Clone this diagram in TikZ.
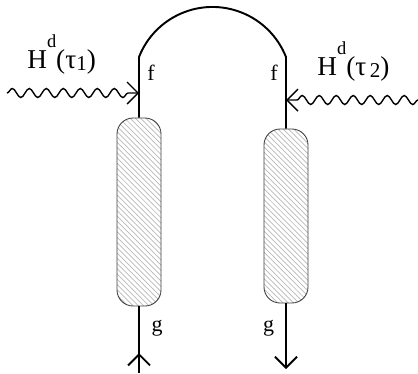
\documentclass[tikz,border=0pt]{standalone}
\usepackage{fontspec}
\setmainfont{Liberation Serif}
\usetikzlibrary{arrows.meta,patterns,decorations.pathmorphing}

\newcommand{\etiq}[1]{H\raisebox{11.5pt}{\fontsize{10.5}{12}\selectfont d}(τ\raisebox{-1.7pt}{\fontsize{12}{13}\selectfont #1})}

\begin{document}
\begin{tikzpicture}[x=0.02cm, y=-0.02cm,
			 bloque/.style={draw=black!75, line width=0.5pt, rounded corners=0.32cm, minimum width=0.88cm, inner sep=0pt, pattern=north west lines, pattern color=gray!55},
			 linea/.style={line width=1.1pt},
			 onda/.style={line width=0.8pt, decorate, decoration={snake, amplitude=0.09cm, segment length=0.34cm, post length=0.1cm}},
			 punta/.style={-{Straight Barb[length=0.22cm, width=0.44cm]}},
			 letra/.style={anchor=base, inner sep=0pt, font=\fontsize{12.5}{14}\selectfont},
			 titulo/.style={anchor=base west, inner sep=0pt, font=\fontsize{15.5}{17}\selectfont}
  		]
	\useasboundingbox (0,0) rectangle (418,373);

	%Creamos los bloques
		\node[bloque, minimum height=3.76cm] (bL) at (139,212) {};
		\node[bloque, minimum height=3.48cm] (bR) at (286,216) {};
	%Puntos auxiliares
		\coordinate (fL) at (139,57);
		\coordinate (fR) at (286,57);
		\coordinate (wL) at (7,93);
		\coordinate (aL) at (139,93);
		\coordinate (wR) at (418,100);
		\coordinate (aR) at (286,100);
		\coordinate (gL) at (139,373);
		\coordinate (pL) at (139,353);
		\coordinate (gR) at (286,369);
	%Linea de arriba
		\draw[linea] (bL.north) -- (fL) arc[start angle=158.5, end angle=21.5, radius=1.58cm] -- (fR) -- (bR.north);
	%Lineas de abajo
		\draw[linea] (bL.south) -- (gL);
		\draw[linea, punta] (gL) -- (pL);
		\draw[linea, punta] (bR.south) -- (gR);
	%Ondas
		\draw[onda, punta] (wL) -- (aL);
		\draw[onda, punta] (wR) -- (aR);
	%Etiquetas
		\node[titulo] (hL) at (27,68) {\etiq{1}};
		\node[titulo] (hR) at (317,75) {\etiq{\,2}};
		\node[letra] (f1) at (151,80) {f};
		\node[letra] (f2) at (274,80) {f};
		\node[letra] (g1) at (157,331) {g};
		\node[letra] (g2) at (268.5,331) {g};
	\end{tikzpicture}
\end{document}
